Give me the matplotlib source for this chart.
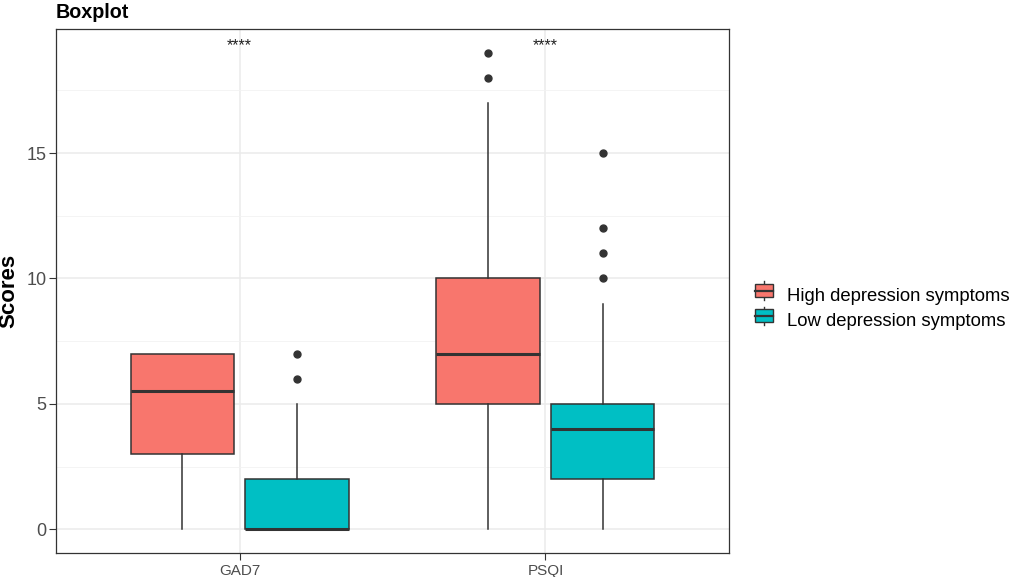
import matplotlib.pyplot as plt
from matplotlib.legend_handler import HandlerBase
from matplotlib.patches import Rectangle
from matplotlib.lines import Line2D
from matplotlib.ticker import MultipleLocator

plt.rcParams["font.family"] = ["Liberation Sans", "DejaVu Sans"]

categories = ["GAD7", "PSQI"]
groups = ["High depression symptoms", "Low depression symptoms"]
colors = ["#F8766D", "#00BFC4"]

# box stats per group: whislo, q1, med, q3, whishi
high_stats = [(0, 3, 5.5, 7, 7), (0, 5, 7, 10, 17)]
low_stats = [(0, 0, 0, 2, 5), (0, 2, 4, 5, 9)]
high_fliers = [[], [18, 19]]
low_fliers = [[6, 7], [10, 11, 12, 15]]
signif = ["****", "****"]
signif_y = [19, 19]

edge = "#333333"

fig = plt.figure(figsize=(10.13, 5.77), dpi=100)
ax = fig.add_axes([56 / 1013, 1 - 553 / 577, (729 - 56) / 1013, (553 - 29) / 577])

def make_stats(s, fl):
    return dict(whislo=s[0], q1=s[1], med=s[2], q3=s[3], whishi=s[4], fliers=fl)

for gi, (stats, fliers) in enumerate([(high_stats, high_fliers), (low_stats, low_fliers)]):
    offset = -0.1875 if gi == 0 else 0.1875
    bxp = [make_stats(s, f) for s, f in zip(stats, fliers)]
    pos = [i + 1 + offset for i in range(len(categories))]
    ax.bxp(bxp, positions=pos, widths=0.3375, patch_artist=True, showcaps=False,
           boxprops=dict(facecolor=colors[gi], edgecolor=edge, linewidth=1.1),
           medianprops=dict(color=edge, linewidth=2.2),
           whiskerprops=dict(color=edge, linewidth=1.1),
           flierprops=dict(marker="o", markerfacecolor=edge, markeredgecolor=edge,
                           markersize=5),
           zorder=3)

for i, (s, y) in enumerate(zip(signif, signif_y)):
    ax.text(i + 1, y, s, ha="center", va="bottom", fontsize=11.5, color="#222222")

ax.set_xlim(0.4, 2.6)
ax.set_ylim(-0.95, 19.95)
ax.set_xticks([1, 2])
ax.set_xticklabels(categories, fontsize=11, color="#4D4D4D")
ax.yaxis.set_major_locator(MultipleLocator(5))
ax.yaxis.set_minor_locator(MultipleLocator(2.5))
ax.tick_params(axis="y", which="major", labelsize=13, labelcolor="#4D4D4D", length=5,
               color="#333333", pad=2)
ax.tick_params(axis="y", which="minor", length=0)
ax.tick_params(axis="x", length=5, color="#333333", pad=3)
ax.grid(True, which="major", color="#EBEBEB", linewidth=1.1, zorder=0)
ax.grid(True, which="minor", axis="y", color="#F2F2F2", linewidth=0.6, zorder=0)
ax.set_axisbelow(True)
for sp in ax.spines.values():
    sp.set_color("#333333")
    sp.set_linewidth(0.9)

ax.set_ylabel("Scores", fontsize=16, fontweight="bold")
ax.yaxis.set_label_coords(-37 / 673, 0.5)
fig.text(56 / 1013, 1 - 13 / 577, "Boxplot", fontsize=14.2, fontweight="bold",
         ha="left", va="center")


class BoxHandler(HandlerBase):
    def __init__(self, color):
        super().__init__()
        self.color = color

    def create_artists(self, legend, orig, xd, yd, width, height, fontsize, trans):
        cx = xd + width / 2
        line = Line2D([cx, cx], [yd - 0.05 * height, yd + 1.05 * height], color=edge,
                      linewidth=1.0, transform=trans)
        rect = Rectangle((xd, yd + 0.1 * height), width, 0.8 * height,
                         facecolor=self.color, edgecolor=edge, linewidth=1.0, transform=trans)
        med = Line2D([xd, xd + width], [yd + height / 2] * 2,
                     color=edge, linewidth=1.6, transform=trans)
        return [line, rect, med]


handles = [Rectangle((0, 0), 1, 1) for _ in groups]
fig.legend(handles, groups, loc="center left", bbox_to_anchor=(755 / 1013, 1 - 308 / 577),
           frameon=False, fontsize=13.3, handlelength=1.0, handleheight=1.0,
           handletextpad=0.75, labelspacing=0.35, borderpad=0, borderaxespad=0,
           handler_map={handles[0]: BoxHandler(colors[0]), handles[1]: BoxHandler(colors[1])})

fig.savefig("out.png", dpi=100)
